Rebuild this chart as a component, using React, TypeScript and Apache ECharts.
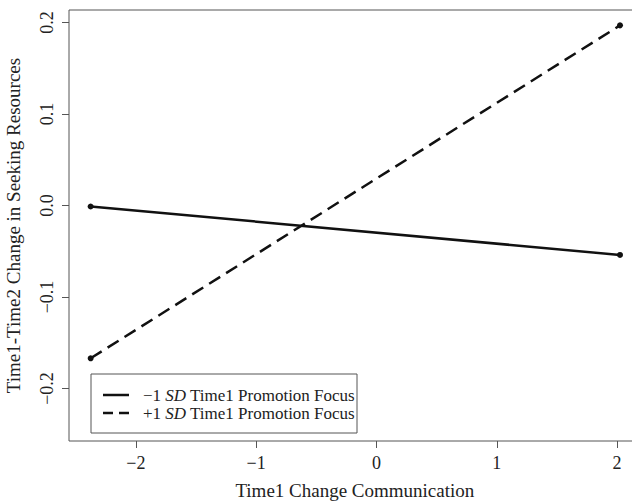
import React, { useEffect, useRef } from "react";
import * as echarts from "echarts";

const xTicks = [-2, -1, 0, 1, 2];
const yTicks = [-0.2, -0.1, 0.0, 0.1, 0.2];
const xRange = [-2.556, 2.196];
const yRange = [-0.2574, 0.2138];
const lineX = [-2.376, 2.024];
const lowPromotionY = [-0.001, -0.054];
const highPromotionY = [-0.167, 0.197];
const xTitle = "Time1 Change Communication";
const yTitle = "Time1-Time2 Change in Seeking Resources";

const FONT = "'Liberation Serif', 'Times New Roman', serif";
const INK = "#111";
const FRAME = "#555";

const minus = (s: string) => s.replace("-", "\u2212");

export default function App() {
  const ref = useRef<HTMLDivElement>(null);
  useEffect(() => {
    document.body.style.margin = "0";
    if (!ref.current) return;
    const chart = echarts.init(ref.current, undefined, { renderer: "svg" });
    const legendText = (sign: string) =>
      `{a|${sign}1 }{b|SD}{a| Time1 Promotion Focus}`;
    const rich = {
      a: { fontFamily: FONT, fontSize: 17, fill: "#222" },
      b: { fontFamily: FONT, fontSize: 17, fontStyle: "italic", fill: "#222" },
    };
    chart.setOption({
      animation: false,
      backgroundColor: "#fff",
      grid: {
        left: 69,
        top: 10,
        width: 571.7,
        height: 431,
        show: true,
        borderColor: FRAME,
        borderWidth: 1,
        containLabel: false,
        outerBoundsMode: "none",
      },
      xAxis: {
        type: "value",
        min: xRange[0],
        max: xRange[1],
        name: xTitle,
        nameLocation: "middle",
        nameGap: 40,
        nameTextStyle: { fontFamily: FONT, fontSize: 19, color: "#222" },
        axisLine: { show: false, onZero: false },
        splitLine: { show: false },
        axisTick: {
          show: true,
          inside: false,
          length: 7,
          lineStyle: { color: FRAME, width: 1 },
          customValues: xTicks,
        },
        axisLabel: {
          customValues: xTicks,
          formatter: (v: number) => minus(String(Math.round(v))),
          fontFamily: FONT,
          fontSize: 18,
          color: "#222",
          margin: 13,
        },
      },
      yAxis: {
        type: "value",
        min: yRange[0],
        max: yRange[1],
        name: yTitle,
        nameLocation: "middle",
        nameRotate: 90,
        nameGap: 46,
        nameTextStyle: { fontFamily: FONT, fontSize: 19, color: "#222" },
        axisLine: { show: false, onZero: false },
        splitLine: { show: false },
        axisTick: {
          show: true,
          inside: false,
          length: 7,
          lineStyle: { color: FRAME, width: 1 },
          customValues: yTicks,
        },
        axisLabel: {
          customValues: yTicks,
          rotate: 90,
          formatter: (v: number) => minus(v.toFixed(1)),
          fontFamily: FONT,
          fontSize: 18,
          color: "#222",
          margin: 13,
        },
      },
      series: [
        {
          name: "low",
          type: "line",
          data: lineX.map((x, i) => [x, lowPromotionY[i]]),
          symbol: "circle",
          symbolSize: 6,
          itemStyle: { color: INK },
          lineStyle: { color: INK, width: 2.5, type: "solid" },
        },
        {
          name: "high",
          type: "line",
          data: lineX.map((x, i) => [x, highPromotionY[i]]),
          symbol: "circle",
          symbolSize: 6,
          itemStyle: { color: INK },
          lineStyle: { color: INK, width: 2.5, type: [13, 7] },
        },
      ],
      graphic: [
        {
          type: "rect",
          shape: { x: 91, y: 374, width: 266, height: 59 },
          style: { fill: "#fff", stroke: FRAME, lineWidth: 1 },
          z: 10,
        },
        {
          type: "line",
          shape: { x1: 103, y1: 395, x2: 129, y2: 395 },
          style: { stroke: INK, lineWidth: 2.5 },
          z: 11,
        },
        {
          type: "line",
          shape: { x1: 103, y1: 413, x2: 129, y2: 413 },
          style: { stroke: INK, lineWidth: 2.5, lineDash: [10, 6] },
          z: 11,
        },
        {
          type: "text",
          x: 143,
          y: 395,
          z: 11,
          style: { text: legendText("\u2212"), verticalAlign: "middle", rich },
        },
        {
          type: "text",
          x: 143,
          y: 413,
          z: 11,
          style: { text: legendText("+"), verticalAlign: "middle", rich },
        },
      ],
    });
    return () => chart.dispose();
  }, []);
  return <div ref={ref} style={{ width: 632, height: 502 }} />;
}
